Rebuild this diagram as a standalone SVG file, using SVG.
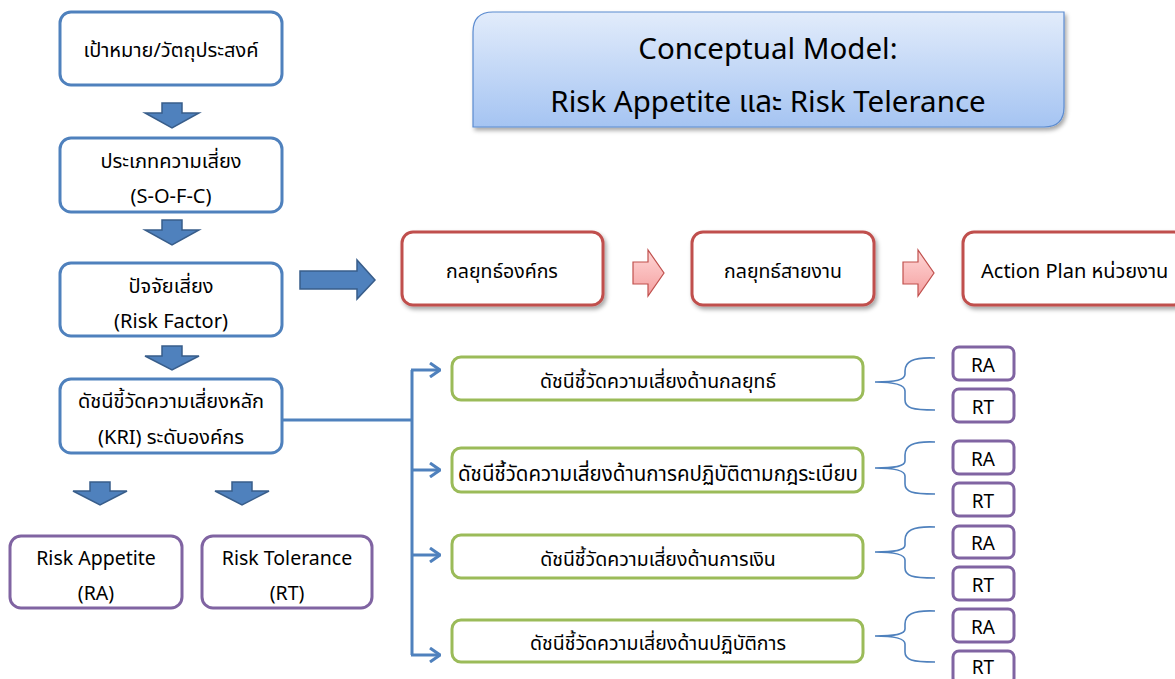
<svg xmlns="http://www.w3.org/2000/svg" width="1175" height="679" viewBox="0 0 1175 679">
<defs>
<linearGradient id="titleGrad" x1="0" y1="0" x2="0" y2="1">
<stop offset="0" stop-color="#e2ecfb"/>
<stop offset="1" stop-color="#a5c4f2"/>
</linearGradient>
<linearGradient id="pinkGrad" x1="0" y1="0" x2="0" y2="1">
<stop offset="0" stop-color="#ffd6d6"/>
<stop offset="1" stop-color="#f4a0a0"/>
</linearGradient>
<filter id="shadow" x="-5%" y="-5%" width="115%" height="125%">
<feDropShadow dx="2" dy="3" stdDeviation="2" flood-color="#000" flood-opacity="0.35"/>
</filter>
<marker id="open" viewBox="0 0 12 16" refX="11" refY="8" markerWidth="12" markerHeight="16" markerUnits="userSpaceOnUse" orient="auto">
<polyline points="1,1 11,8 1,15" fill="none" stroke="#4f81bd" stroke-width="3"/>
</marker>
<style>
text{font-family:"Noto Sans","Noto Sans Thai","Loma","Garuda","DejaVu Sans",sans-serif;fill:#000;text-anchor:middle;dominant-baseline:central}
.blue{fill:#fff;stroke:#4f81bd;stroke-width:3}
.red{fill:#fff;stroke:#c0504d;stroke-width:3}
.green{fill:#fff;stroke:#9bbb59;stroke-width:3}
.purple{fill:#fff;stroke:#8064a2;stroke-width:3}
.blk{fill:#4f81bd;stroke:#385d8a;stroke-width:1.5}
.pink{fill:url(#pinkGrad);stroke:#c0504d;stroke-width:1.2}
.tl{font-size:20px}
.tb{font-size:19.5px}
.tr{font-size:19.5px}
.tg{font-size:19.5px}
.ts{font-size:19px}
.conn{fill:none;stroke:#4f81bd;stroke-width:3}
.brace{fill:none;stroke:#4f81bd;stroke-width:1.6}
</style>
</defs>

<g id="title">
<path d="M493,12 L1064,12 L1064,107 Q1064,127 1044,127 L473,127 L473,32 Q473,12 493,12 Z" fill="url(#titleGrad)" stroke="#5b8bd0" stroke-width="1.2" filter="url(#shadow)"/>
<text x="768" y="47" font-size="29.5">Conceptual Model:</text>
<text x="768" y="100" font-size="29.5">Risk Appetite และ Risk Telerance</text>
</g>

<g id="goal">
<rect class="blue" x="60" y="12" width="222" height="73" rx="11"/>
<text class="tl" x="171" y="49">เป้าหมาย/วัตถุประสงค์</text>
</g>
<g id="risk-type">
<rect class="blue" x="60" y="138" width="222" height="74" rx="11"/>
<text class="tl" x="171" y="160">ประเภทความเสี่ยง</text>
<text class="tl" x="171" y="195">(S-O-F-C)</text>
</g>
<g id="risk-factor">
<rect class="blue" x="60" y="263" width="222" height="73" rx="11"/>
<text class="tl" x="171" y="285">ปัจจัยเสี่ยง</text>
<text class="tl" x="171" y="320">(Risk Factor)</text>
</g>
<g id="kri">
<rect class="blue" x="60" y="379" width="222" height="74" rx="11"/>
<text class="tl" x="171" y="400">ดัชนีขี้วัดความเสี่ยงหลัก</text>
<text class="tl" x="171" y="436">(KRI) ระดับองค์กร</text>
</g>
<g id="ra">
<rect class="purple" x="10" y="536" width="172" height="72" rx="11"/>
<text class="tb" x="96" y="557">Risk Appetite</text>
<text class="tb" x="96" y="592">(RA)</text>
</g>
<g id="rt">
<rect class="purple" x="202" y="536" width="170" height="72" rx="11"/>
<text class="tb" x="287" y="557">Risk Tolerance</text>
<text class="tb" x="287" y="592">(RT)</text>
</g>

<g id="strategy-org">
<rect class="red" x="402" y="232" width="201" height="73" rx="11" filter="url(#shadow)"/>
<text class="tr" x="502" y="270">กลยุทธ์องค์กร</text>
</g>
<g id="strategy-line">
<rect class="red" x="692" y="232" width="182" height="73" rx="11" filter="url(#shadow)"/>
<text class="tr" x="783" y="270">กลยุทธ์สายงาน</text>
</g>
<g id="action-plan">
<rect class="red" x="963" y="232" width="222" height="73" rx="11" filter="url(#shadow)"/>
<text x="981" y="270" font-size="20" style="text-anchor:start">Action Plan หน่วยงาน</text>
</g>

<g id="kri-strategy">
<rect class="green" x="452" y="357" width="411" height="43" rx="9"/>
<text class="tg" x="658" y="380">ดัชนีชี้วัดความเสี่ยงด้านกลยุทธ์</text>
</g>
<g id="kri-compliance">
<rect class="green" x="452" y="448" width="411" height="44" rx="9"/>
<text x="658" y="473" font-size="20.5">ดัชนีชี้วัดความเสี่ยงด้านการคปฏิบัติตามกฎระเบียบ</text>
</g>
<g id="kri-finance">
<rect class="green" x="452" y="535" width="411" height="43" rx="9"/>
<text class="tg" x="658" y="558">ดัชนีชี้วัดความเสี่ยงด้านการเงิน</text>
</g>
<g id="kri-operation">
<rect class="green" x="452" y="620" width="411" height="42" rx="9"/>
<text class="tg" x="658" y="642">ดัชนีชี้วัดความเสี่ยงด้านปฏิบัติการ</text>
</g>

<g id="ra1"><rect class="purple" x="953" y="347" width="61" height="33" rx="6"/><text class="ts" x="983" y="365">RA</text></g>
<g id="rt1"><rect class="purple" x="953" y="389" width="61" height="33" rx="6"/><text class="ts" x="983" y="407">RT</text></g>
<g id="ra2"><rect class="purple" x="953" y="441" width="61" height="33" rx="6"/><text class="ts" x="983" y="459">RA</text></g>
<g id="rt2"><rect class="purple" x="953" y="483" width="61" height="33" rx="6"/><text class="ts" x="983" y="501">RT</text></g>
<g id="ra3"><rect class="purple" x="953" y="526" width="61" height="32" rx="6"/><text class="ts" x="983" y="543">RA</text></g>
<g id="rt3"><rect class="purple" x="953" y="567" width="61" height="33" rx="6"/><text class="ts" x="983" y="585">RT</text></g>
<g id="ra4"><rect class="purple" x="953" y="609" width="61" height="33" rx="6"/><text class="ts" x="983" y="627">RA</text></g>
<g id="rt4"><rect class="purple" x="953" y="651" width="61" height="33" rx="6"/><text class="ts" x="983" y="667">RT</text></g>

<g id="connectors">
<polygon class="blk" points="162,103 182,103 182,113 199,113 172,128 145,113 162,113"/>
<polygon class="blk" points="162,220 182,220 182,230 199,230 172,245 145,230 162,230"/>
<polygon class="blk" points="162,346 182,346 182,356 199,356 172,370 145,356 162,356"/>
<polygon class="blk" points="90,482 110,482 110,491 127,491 100,505 73,491 90,491"/>
<polygon class="blk" points="232,482 252,482 252,491 269,491 242,505 215,491 232,491"/>
<polygon class="blk" points="300,271 357,271 357,260 375,280 357,299 357,289 300,289"/>
<polygon class="pink" points="633,262 648,262 648,250 664,273 648,296 648,284 633,284"/>
<polygon class="pink" points="903,262 918,262 918,250 934,273 918,296 918,284 903,284"/>
<path class="conn" d="M282,420 L412,420"/>
<path class="conn" d="M412,370 L412,655"/>
<path class="conn" d="M411,370 L440,370" marker-end="url(#open)"/>
<path class="conn" d="M411,470 L440,470" marker-end="url(#open)"/>
<path class="conn" d="M411,555 L440,555" marker-end="url(#open)"/>
<path class="conn" d="M411,655 L440,655" marker-end="url(#open)"/>
<path class="brace" d="M935,358 C912,357 905,362 905,371 L905,374 C905,380 896,382 875,382 C896,382 905,385 905,391 L905,400 C905,408 912,410 935,410"/>
<path class="brace" d="M935,442 C912,441 905,446 905,455 L905,461 C905,466 896,468 875,468 C896,468 905,471 905,476 L905,484 C905,492 912,494 935,494"/>
<path class="brace" d="M935,527 C912,526 905,531 905,540 L905,545 C905,550 896,552 875,552 C896,552 905,555 905,560 L905,568 C905,576 912,578 935,578"/>
<path class="brace" d="M935,611 C912,610 905,615 905,624 L905,629 C905,634 896,636 875,636 C896,636 905,639 905,644 L905,652 C905,660 912,662 935,662"/>
</g>
</svg>
